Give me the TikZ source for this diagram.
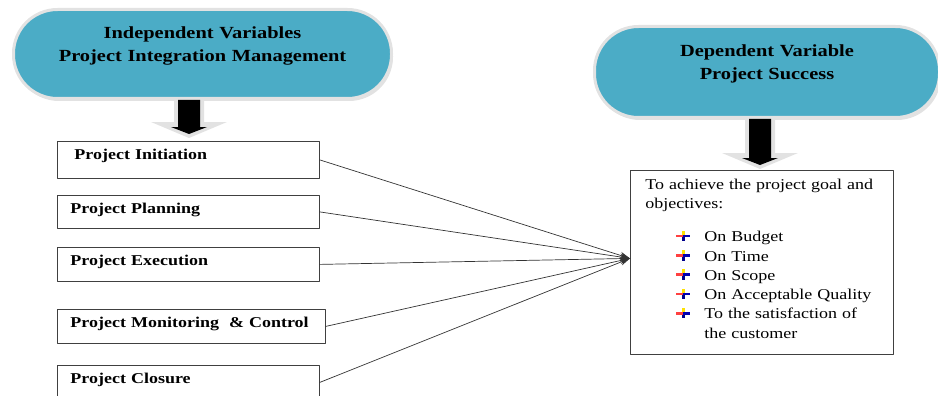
\documentclass[tikz,border=0pt]{standalone}
\usepackage{fontspec}
\setmainfont[FakeStretch=1.2]{Liberation Serif}
\usetikzlibrary{arrows.meta,shadows}
\definecolor{pillblue}{RGB}{75,172,198}
\definecolor{rimgray}{RGB}{226,226,226}
\newcommand\pilltext{\fontsize{17}{22.5}\selectfont\bfseries}
\newcommand\boxtext{\fontsize{15}{18}\selectfont\bfseries}
\newcommand\goaltext{\fontsize{15}{19.3}\selectfont}
\newcommand\arrowbullet{\tikz[x=1pt,y=1pt,baseline=0pt]{
  \fill[yellow!85!orange] (-1.3,6) rectangle (1.3,11);
  \fill[red!75] (-7,4.3) rectangle (0,7);
  \fill[blue!70!black] (0,4.3) rectangle (7,7);
  \fill[blue!55!black] (-1.6,0.5) rectangle (1.6,4.3);}}
\newcommand\goalpoint{\hspace*{31pt}\arrowbullet\hspace{14pt}}
\tikzset{
  every picture/.style={line join=round, line cap=round, >={Stealth[length=10pt,width=7pt]}},
  pill/.style={draw=rimgray, line width=3pt, fill=pillblue, rounded corners=44pt,
    drop shadow={shadow xshift=1.5pt, shadow yshift=-2.5pt, fill=gray!45},
    align=center, inner xsep=0pt, inner ysep=0pt, font=\pilltext},
  phasebox/.style={draw=black!75, line width=0.8pt, anchor=north west, inner xsep=13pt,
    inner ysep=0pt, text width=236pt, text height=18pt, align=left, font=\boxtext},
  goalbox/.style={draw=black!75, line width=0.8pt, anchor=north west, inner xsep=15pt,
    inner ysep=0pt, text width=233pt, text height=19pt, text depth=165pt, align=left, font=\goaltext},
  link/.style={->, draw=black!80, line width=0.7pt},
  downarrow/.pic={
    \fill[rimgray] (-15,-1) -- (15,-1) -- (15,#1-5) -- (38,#1-5) -- (0,#1+11) -- (-38,#1-5) -- (-15,#1-5) -- cycle;
    \fill[black] (-11,0) -- (11,0) -- (11,#1) -- (18,#1) -- (0,#1+7) -- (-18,#1) -- (-11,#1) -- cycle;
  },
}
\begin{document}
\begin{tikzpicture}[x=1pt,y=-1pt]
\useasboundingbox (0,0) rectangle (938,396);
% the two variable headings
\node[pill, text width=378pt, text height=29.5pt, text depth=59.5pt] (indep) at (202.5,54)
  {Independent Variables\\Project Integration Management};
\node[pill, text width=345pt, text height=30.5pt, text depth=60.5pt] (dep) at (767,72)
  {Dependent Variable\\Project Success};
\path ([xshift=-13.5pt]indep.south) pic{downarrow=27};
\path ([xshift=-7pt]dep.south) pic{downarrow=39};
% phases of integration management
\node[phasebox, text depth=19pt] (init) at (57,141) {\hspace*{4pt}Project Initiation};
\node[phasebox, text depth=15pt] (plan) at (57,195) {Project Planning};
\node[phasebox, text depth=16pt] (exec) at (57,247) {Project Execution};
\node[phasebox, text depth=16pt, text width=242pt] (monit) at (57,309) {Project Monitoring \ \& Control};
\node[phasebox, text depth=16pt] (close) at (57,365) {Project Closure};
% project success
\node[goalbox] (goal) at (630,170) {To achieve the project goal and\\
objectives:\\[13.7pt]
\goalpoint On Budget\\
\goalpoint On Time\\
\goalpoint On Scope\\
\goalpoint On Acceptable Quality\\
\goalpoint To the satisfaction of\\
\hspace*{59pt}the customer};
\coordinate (hub) at ([yshift=4pt]goal.west);
\foreach \n in {init,plan,exec,monit,close}
  \draw[link] (\n.east) -- (hub);
\end{tikzpicture}
\end{document}
